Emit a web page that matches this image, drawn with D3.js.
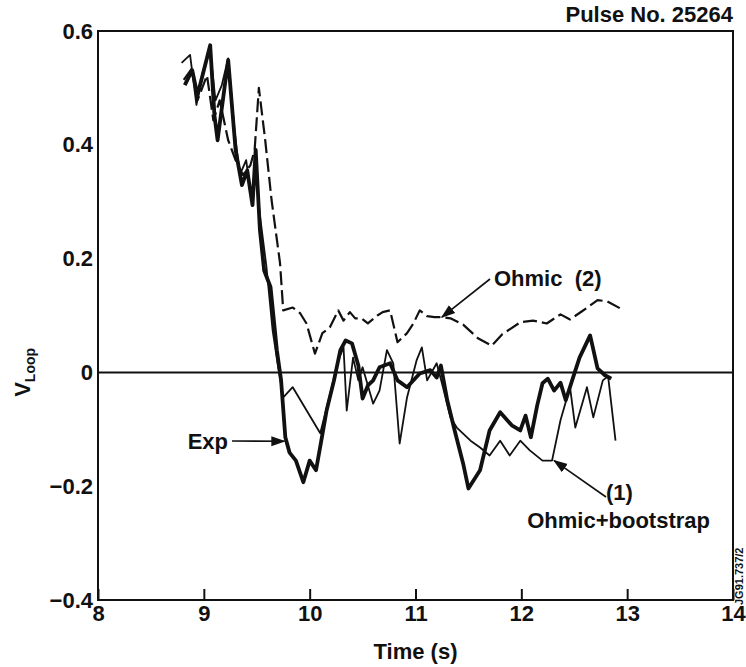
<!DOCTYPE html>
<html>
<head>
<meta charset="utf-8">
<script src="https://cdn.jsdelivr.net/npm/d3@7"></script>
<style>
  body { margin: 0; background: #fff; }
  text { font-family: "Liberation Sans", Arial, sans-serif; fill: #111; }
</style>
</head>
<body>
<div id="chart"></div>
<script>
// values
const expTime = [8.82, 8.89, 8.94, 9.06, 9.10, 9.13, 9.23, 9.30, 9.36, 9.41, 9.46, 9.49, 9.53, 9.57, 9.63, 9.69, 9.73, 9.77, 9.81, 9.87, 9.94, 10.00, 10.06, 10.11, 10.16, 10.23, 10.29, 10.34, 10.40, 10.46, 10.50, 10.55, 10.60, 10.66, 10.76, 10.83, 10.92, 11.04, 11.14, 11.20, 11.24, 11.30, 11.37, 11.45, 11.50, 11.61, 11.70, 11.80, 11.91, 11.99, 12.04, 12.09, 12.15, 12.20, 12.25, 12.31, 12.37, 12.42, 12.48, 12.55, 12.65, 12.72, 12.79, 12.85];
const expV = [0.505, 0.531, 0.487, 0.575, 0.452, 0.408, 0.549, 0.391, 0.329, 0.355, 0.294, 0.391, 0.250, 0.179, 0.150, 0.039, -0.014, -0.114, -0.141, -0.155, -0.193, -0.155, -0.172, -0.120, -0.067, -0.014, 0.039, 0.056, 0.051, 0.012, -0.046, -0.023, -0.014, 0.009, 0.016, -0.014, -0.026, -0.002, 0.004, -0.009, 0.012, -0.049, -0.102, -0.160, -0.204, -0.172, -0.102, -0.070, -0.093, -0.102, -0.076, -0.114, -0.058, -0.019, -0.011, -0.032, -0.018, -0.049, -0.014, 0.026, 0.065, 0.007, -0.005, -0.011];

const ohmicTime = [8.81, 8.89, 8.94, 9.03, 9.09, 9.15, 9.23, 9.30, 9.37, 9.44, 9.48, 9.52, 9.58, 9.64, 9.72, 9.75, 9.84, 9.91, 9.97, 10.05, 10.12, 10.19, 10.27, 10.32, 10.38, 10.43, 10.49, 10.55, 10.64, 10.69, 10.76, 10.83, 10.92, 10.98, 11.04, 11.11, 11.18, 11.25, 11.33, 11.45, 11.59, 11.72, 11.82, 11.99, 12.11, 12.24, 12.37, 12.46, 12.57, 12.72, 12.81, 12.93];
const ohmicV = [0.514, 0.535, 0.478, 0.522, 0.443, 0.478, 0.408, 0.373, 0.347, 0.364, 0.391, 0.500, 0.408, 0.303, 0.192, 0.109, 0.114, 0.104, 0.086, 0.033, 0.069, 0.079, 0.109, 0.091, 0.106, 0.095, 0.095, 0.086, 0.100, 0.106, 0.109, 0.053, 0.069, 0.086, 0.109, 0.099, 0.097, 0.097, 0.095, 0.084, 0.060, 0.047, 0.067, 0.088, 0.091, 0.086, 0.102, 0.093, 0.107, 0.127, 0.125, 0.113];

const bootTime = [8.79, 8.87, 8.93, 8.99, 9.06, 9.11, 9.17, 9.23, 9.29, 9.34, 9.40, 9.45, 9.49, 9.53, 9.59, 9.65, 9.70, 9.75, 9.84, 10.10, 10.19, 10.27, 10.32, 10.35, 10.41, 10.46, 10.50, 10.60, 10.66, 10.73, 10.79, 10.85, 10.92, 11.01, 11.06, 11.11, 11.20, 11.25, 11.33, 11.39, 11.52, 11.61, 11.70, 11.80, 11.89, 11.99, 12.08, 12.20, 12.29, 12.37, 12.46, 12.51, 12.62, 12.68, 12.77, 12.82, 12.89];
const bootV = [0.544, 0.558, 0.470, 0.528, 0.566, 0.478, 0.505, 0.552, 0.426, 0.347, 0.373, 0.303, 0.347, 0.276, 0.188, 0.074, 0.012, -0.044, -0.026, -0.107, -0.040, 0.021, 0.044, -0.067, 0.026, -0.014, 0.009, -0.055, -0.032, 0.039, 0.016, -0.125, -0.044, 0.021, 0.044, -0.014, 0.016, -0.019, -0.079, -0.097, -0.120, -0.132, -0.146, -0.120, -0.146, -0.120, -0.137, -0.155, -0.155, -0.084, -0.026, -0.097, -0.026, -0.079, -0.014, -0.007, -0.120];

const xTicks = [8, 9, 10, 11, 12, 13, 14];
const yTicks = [-0.4, -0.2, 0, 0.2, 0.4, 0.6];

const width = 746, height = 667;
const margin = { top: 31, right: 13, bottom: 67, left: 98 };

const svg = d3.select('#chart')
  .append('svg')
    .attr('width', width)
    .attr('height', height);

const x = d3.scaleLinear().domain([8, 14]).range([margin.left, width - margin.right]);
const y = d3.scaleLinear().domain([-0.4, 0.6]).range([height - margin.bottom, margin.top]);

const toPoints = (ts, vs) => ts.map((t, i) => [t, vs[i]]);
const line = d3.line().x(d => x(d[0])).y(d => y(d[1]));

// frame
svg.append('rect')
  .attr('x', x(8))
  .attr('y', y(0.6))
  .attr('width', x(14) - x(8))
  .attr('height', y(-0.4) - y(0.6))
  .attr('fill', 'none')
  .attr('stroke', '#111')
  .attr('stroke-width', 2);

// zero line
svg.append('line')
  .attr('x1', x(8)).attr('x2', x(14))
  .attr('y1', y(0)).attr('y2', y(0))
  .attr('stroke', '#111')
  .attr('stroke-width', 2);

const xAxis = svg.append('g')
  .attr('transform', `translate(0, ${y(-0.4)})`)
  .call(d3.axisBottom(x).tickValues(xTicks).tickSize(-11).tickPadding(5).tickFormat(d3.format('d')));
xAxis.select('.domain').remove();
xAxis.selectAll('line').attr('stroke', '#111').attr('stroke-width', 2);
xAxis.selectAll('text')
  .attr('font-size', 22)
  .attr('font-weight', 'bold')
  .attr('font-family', '"Liberation Sans", Arial, sans-serif')
  .attr('fill', '#111');

const yAxis = svg.append('g')
  .attr('transform', `translate(${x(8)}, 0)`)
  .call(d3.axisLeft(y).tickValues(yTicks).tickSize(0).tickPadding(5)
    .tickFormat(d => d === 0 ? '0' : d3.format('.1f')(d)));
yAxis.select('.domain').remove();
yAxis.selectAll('text')
  .attr('font-size', 22)
  .attr('font-weight', 'bold')
  .attr('font-family', '"Liberation Sans", Arial, sans-serif')
  .attr('fill', '#111');

// curves
svg.append('path')
  .datum(toPoints(ohmicTime, ohmicV))
  .attr('d', line)
  .attr('fill', 'none')
  .attr('stroke', '#111')
  .attr('stroke-width', 2.2)
  .attr('stroke-dasharray', '14,5')
  .attr('stroke-linejoin', 'round');

svg.append('path')
  .datum(toPoints(bootTime, bootV))
  .attr('d', line)
  .attr('fill', 'none')
  .attr('stroke', '#111')
  .attr('stroke-width', 1.8)
  .attr('stroke-linejoin', 'round');

svg.append('path')
  .datum(toPoints(expTime, expV))
  .attr('d', line)
  .attr('fill', 'none')
  .attr('stroke', '#111')
  .attr('stroke-width', 3.8)
  .attr('stroke-linejoin', 'round');

// annotations
svg.append('defs').append('marker')
  .attr('id', 'arrow')
  .attr('viewBox', '0 0 10 10')
  .attr('refX', 9).attr('refY', 5)
  .attr('markerWidth', 9).attr('markerHeight', 9)
  .attr('orient', 'auto')
  .append('path')
    .attr('d', 'M0,1.5L10,5L0,8.5Z')
    .attr('fill', '#111');

const arrow = (x1, y1, t, v) => svg.append('line')
  .attr('x1', x1).attr('y1', y1)
  .attr('x2', x(t)).attr('y2', y(v))
  .attr('stroke', '#111')
  .attr('stroke-width', 1.6)
  .attr('marker-end', 'url(#arrow)');

arrow(490, 279, 11.25, 0.097);
arrow(232, 441, 9.76, -0.121);
arrow(606, 497, 12.31, -0.155);

const label = (txt, lx, ly, anchor, size) => svg.append('text')
  .attr('x', lx).attr('y', ly)
  .attr('text-anchor', anchor)
  .attr('font-size', size)
  .attr('font-weight', 'bold')
  .text(txt);

label('Ohmic  (2)', 494, 286, 'start', 22).attr('xml:space', 'preserve');
label('Exp', 228, 449, 'end', 22);
label('(1)', 606, 500, 'start', 22);
label('Ohmic+bootstrap', 710, 528, 'end', 22);
label('Pulse No. 25264', 733, 22, 'end', 22);
label('Time (s)', (x(8) + x(14)) / 2, 659, 'middle', 22);

// y label with subscript
const yl = svg.append('text')
  .attr('transform', `translate(30, ${y(0)}) rotate(-90)`)
  .attr('text-anchor', 'middle')
  .attr('font-size', 22)
  .attr('font-weight', 'bold');
yl.append('tspan').text('V');
yl.append('tspan').attr('font-size', 14).attr('dy', 5).text('Loop');

// figure code beside the frame
svg.append('text')
  .attr('transform', `translate(743, 605) rotate(-90)`)
  .attr('font-size', 11)
  .attr('font-weight', 'bold')
  .text('JG91.737/2');
</script>
</body>
</html>
